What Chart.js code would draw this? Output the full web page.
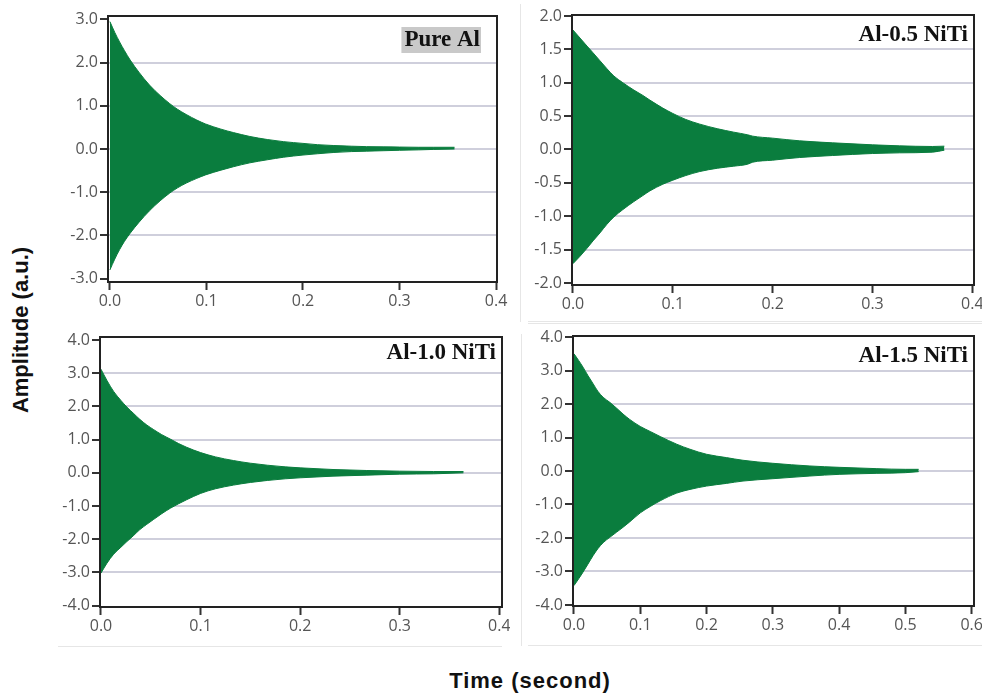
<!DOCTYPE html>
<html>
<head>
<meta charset="utf-8">
<title>Damping signals</title>
<script src="https://cdn.jsdelivr.net/npm/chart.js@4/dist/chart.umd.min.js"></script>
<style>
  body { margin: 0; background: #fff; width: 982px; height: 695px; position: relative; overflow: hidden; }
  canvas { position: absolute; }
  .rule { position: absolute; background: #e6e6e6; }
  .axis-title { position: absolute; font-family: "Liberation Sans", Arial, sans-serif; font-weight: bold; font-size: 22px; color: #111; white-space: nowrap; }
</style>
</head>
<body>
<!-- faint panel frames -->
<div class="rule" style="left:520px;top:4px;width:1px;height:318px"></div>
<div class="rule" style="left:528px;top:321px;width:454px;height:1px"></div>
<div class="rule" style="left:528px;top:323px;width:454px;height:1px"></div>
<div class="rule" style="left:521px;top:334px;width:1px;height:312px"></div>
<div class="rule" style="left:528px;top:645px;width:454px;height:1px"></div>
<div class="rule" style="left:58px;top:646px;width:444px;height:1px"></div>

<canvas id="pureAl" width="470" height="320" style="left:40px;top:0px"></canvas>
<canvas id="al05" width="472" height="320" style="left:510px;top:0px"></canvas>
<canvas id="al10" width="470" height="325" style="left:40px;top:325px"></canvas>
<canvas id="al15" width="472" height="325" style="left:510px;top:325px"></canvas>

<div class="axis-title" style="left:21px;top:330px;transform:translate(-50%,-50%) rotate(-90deg)">Amplitude (a.u.)</div>
<div class="axis-title" style="left:530px;top:681px;letter-spacing:1px;transform:translate(-50%,-50%)">Time (second)</div>

<script>
// Envelope of each decay signal: time (s), upper and lower amplitude (a.u.)
const pureAlTime  = [0, 0.005, 0.010, 0.015, 0.021, 0.030, 0.041, 0.052, 0.062, 0.070, 0.079, 0.090, 0.099, 0.115, 0.128, 0.145, 0.163, 0.180, 0.200, 0.215, 0.232, 0.250, 0.266, 0.283, 0.300, 0.320, 0.335, 0.357];
const pureAlUpper = [2.95, 2.70, 2.48, 2.28, 2.06, 1.78, 1.48, 1.24, 1.05, 0.92, 0.80, 0.67, 0.58, 0.46, 0.38, 0.29, 0.22, 0.17, 0.13, 0.10, 0.08, 0.065, 0.055, 0.05, 0.045, 0.04, 0.04, 0.04];
const pureAlLower = [-2.80, -2.55, -2.33, -2.14, -1.95, -1.70, -1.43, -1.20, -1.02, -0.90, -0.79, -0.68, -0.60, -0.49, -0.41, -0.32, -0.25, -0.19, -0.14, -0.11, -0.08, -0.06, -0.05, -0.04, -0.03, -0.02, -0.01, 0.00];

const al05Time  = [0, 0.007, 0.014, 0.020, 0.027, 0.034, 0.041, 0.050, 0.061, 0.070, 0.077, 0.090, 0.100, 0.113, 0.127, 0.145, 0.161, 0.175, 0.180, 0.200, 0.227, 0.260, 0.300, 0.327, 0.360, 0.372];
const al05Upper = [1.79, 1.67, 1.55, 1.45, 1.33, 1.21, 1.10, 1.00, 0.89, 0.81, 0.74, 0.62, 0.54, 0.45, 0.38, 0.31, 0.26, 0.22, 0.20, 0.17, 0.13, 0.10, 0.07, 0.055, 0.045, 0.05];
const al05Lower = [-1.71, -1.60, -1.48, -1.37, -1.25, -1.12, -1.01, -0.90, -0.78, -0.69, -0.62, -0.52, -0.46, -0.39, -0.33, -0.28, -0.25, -0.22, -0.19, -0.16, -0.12, -0.09, -0.06, -0.05, -0.04, -0.01];

const al10Time  = [0, 0.006, 0.0127, 0.020, 0.026, 0.033, 0.039, 0.046, 0.053, 0.061, 0.070, 0.078, 0.086, 0.100, 0.115, 0.133, 0.150, 0.167, 0.185, 0.200, 0.233, 0.267, 0.300, 0.334, 0.364];
const al10Upper = [3.12, 2.78, 2.45, 2.18, 1.98, 1.78, 1.61, 1.44, 1.30, 1.15, 1.01, 0.88, 0.77, 0.61, 0.48, 0.37, 0.29, 0.23, 0.18, 0.15, 0.10, 0.07, 0.05, 0.04, 0.04];
const al10Lower = [-3.02, -2.72, -2.45, -2.24, -2.07, -1.88, -1.71, -1.55, -1.40, -1.23, -1.06, -0.93, -0.81, -0.62, -0.48, -0.37, -0.29, -0.23, -0.18, -0.15, -0.10, -0.07, -0.04, -0.03, 0.00];

const al15Time  = [0, 0.007, 0.0136, 0.021, 0.029, 0.036, 0.044, 0.054, 0.064, 0.074, 0.084, 0.100, 0.115, 0.130, 0.155, 0.175, 0.200, 0.230, 0.255, 0.300, 0.356, 0.400, 0.457, 0.500, 0.520];
const al15Upper = [3.50, 3.30, 3.10, 2.85, 2.60, 2.38, 2.20, 2.05, 1.88, 1.70, 1.54, 1.33, 1.18, 1.03, 0.80, 0.65, 0.50, 0.40, 0.32, 0.23, 0.15, 0.11, 0.07, 0.05, 0.05];
const al15Lower = [-3.42, -3.22, -3.02, -2.78, -2.52, -2.32, -2.14, -1.98, -1.83, -1.68, -1.52, -1.25, -1.06, -0.89, -0.66, -0.55, -0.45, -0.37, -0.30, -0.23, -0.15, -0.10, -0.07, -0.05, -0.02];

// Tick values
const xTicksShort = [0, 0.1, 0.2, 0.3, 0.4];
const xTicksLong  = [0, 0.1, 0.2, 0.3, 0.4, 0.5, 0.6];
const yTicks3 = [-3, -2, -1, 0, 1, 2, 3];
const yTicks2 = [-2, -1.5, -1, -0.5, 0, 0.5, 1, 1.5, 2];
const yTicks4 = [-4, -3, -2, -1, 0, 1, 2, 3, 4];

const GREEN = '#0a7d3e';
const tickFont = { family: '"Open Sans", "DejaVu Sans", sans-serif', size: 16 };

// plot box border and sample name
const panelFrame = {
  id: 'panelFrame',
  afterDatasetsDraw(chart, args, opts) {
    const { ctx, chartArea: a } = chart;
    ctx.save();
    ctx.strokeStyle = '#222';
    ctx.lineWidth = 2;
    ctx.strokeRect(a.left, a.top, a.right - a.left, a.bottom - a.top);
    ctx.font = 'bold 23px "Liberation Serif", "Times New Roman", serif';
    ctx.textAlign = 'right';
    ctx.textBaseline = 'middle';
    const x = a.right - opts.right;
    const y = a.top + opts.top;
    if (opts.shade) {
      const w = ctx.measureText(opts.text).width;
      ctx.fillStyle = '#c9c9c9';
      ctx.fillRect(x - w - 3, y - 13, w + 4, 26);
    }
    ctx.fillStyle = '#111';
    ctx.fillText(opts.text, x, y);
    ctx.restore();
  }
};

function makePanel(id, time, upper, lower, o) {
  const toPoints = arr => arr.map((v, i) => ({ x: time[i], y: v }));
  return new Chart(document.getElementById(id), {
    type: 'line',
    data: {
      datasets: [
        { data: toPoints(upper), borderColor: GREEN, backgroundColor: GREEN, borderWidth: 1, pointRadius: 0, cubicInterpolationMode: 'monotone', fill: '+1' },
        { data: toPoints(lower), borderColor: GREEN, borderWidth: 1, pointRadius: 0, cubicInterpolationMode: 'monotone', fill: false }
      ]
    },
    options: {
      responsive: false,
      animation: false,
      layout: { padding: { top: o.padTop, right: o.padRight, left: 0, bottom: 0 } },
      plugins: {
        legend: { display: false },
        tooltip: { enabled: false },
        panelFrame: { text: o.label, shade: !!o.shade, right: o.labelRight, top: o.labelTop }
      },
      scales: {
        x: {
          type: 'linear',
          min: o.xMin, max: o.xMax,
          afterBuildTicks: s => { s.ticks = o.xTicks.map(v => ({ value: v })); },
          afterFit: s => { s.height = o.xHeight; s.paddingLeft = 0; s.paddingRight = 0; },
          ticks: { autoSkip: false, maxRotation: 0, color: '#555', font: tickFont, padding: 2, callback: v => v.toFixed(1) },
          grid: { drawOnChartArea: false, tickColor: '#333', tickLength: 8, tickWidth: 2 },
          border: { display: false }
        },
        y: {
          type: 'linear',
          min: o.yMin, max: o.yMax,
          afterBuildTicks: s => { s.ticks = o.yTicks.map(v => ({ value: v })); },
          afterFit: s => { s.width = o.yWidth; s.paddingTop = 0; s.paddingBottom = 0; },
          ticks: { autoSkip: false, color: '#555', font: tickFont, padding: 2, callback: v => v.toFixed(1) },
          grid: {
            color: c => (c.index === 0 || c.index === o.yTicks.length - 1) ? 'rgba(0,0,0,0)' : '#cfcfdc',
            lineWidth: 2, tickColor: '#333', tickLength: 8, tickWidth: 2
          },
          border: { display: false }
        }
      }
    },
    plugins: [panelFrame]
  });
}

makePanel('pureAl', pureAlTime, pureAlUpper, pureAlLower, {
  label: 'Pure Al', shade: true, labelRight: 17, labelTop: 24,
  xMin: -0.002, xMax: 0.401, xTicks: xTicksShort,
  yMin: -3.08, yMax: 3.08, yTicks: yTicks3,
  yWidth: 68, xHeight: 38, padTop: 16, padRight: 13
});

makePanel('al05', al05Time, al05Upper, al05Lower, {
  label: 'Al-0.5 NiTi', labelRight: 6, labelTop: 20,
  xMin: -0.001, xMax: 0.4017, xTicks: xTicksShort,
  yMin: -2.03, yMax: 2.015, yTicks: yTicks2,
  yWidth: 62, xHeight: 35, padTop: 15, padRight: 8
});

makePanel('al10', al10Time, al10Upper, al10Lower, {
  label: 'Al-1.0 NiTi', labelRight: 6, labelTop: 16,
  xMin: -0.001, xMax: 0.4027, xTicks: xTicksShort,
  yMin: -4.04, yMax: 4.09, yTicks: yTicks4,
  yWidth: 60, xHeight: 43, padTop: 12, padRight: 8
});

makePanel('al15', al15Time, al15Upper, al15Lower, {
  label: 'Al-1.5 NiTi', labelRight: 6, labelTop: 20,
  xMin: -0.0015, xMax: 0.6035, xTicks: xTicksLong,
  yMin: -4.03, yMax: 4.03, yTicks: yTicks4,
  yWidth: 63, xHeight: 44, padTop: 11, padRight: 8
});
</script>
</body>
</html>
